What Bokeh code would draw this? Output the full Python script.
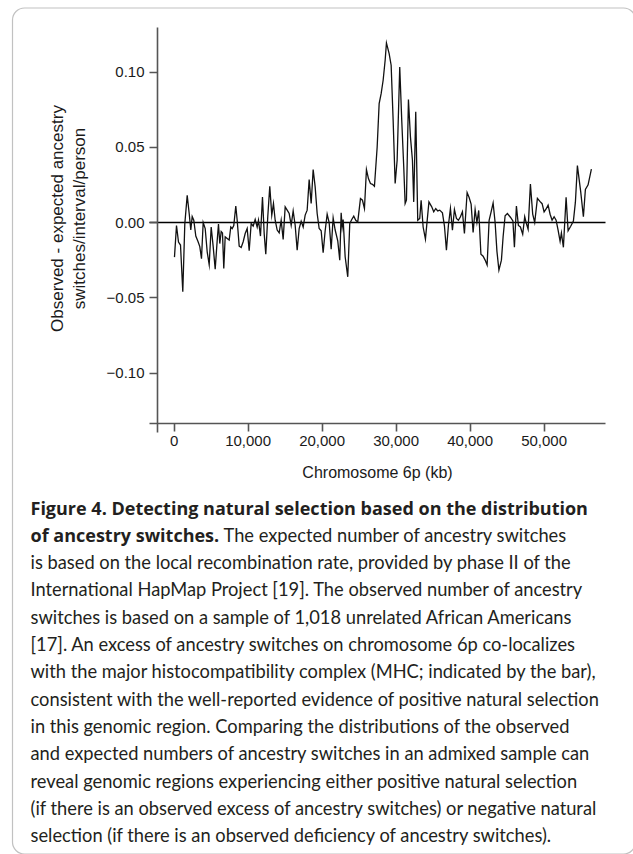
import math
from bokeh.plotting import figure
from bokeh.models import (Range1d, FixedTicker, NumeralTickFormatter, Label,
                          BoxAnnotation, LinearAxis)
from bokeh.embed import file_html
from bokeh.resources import INLINE

# ---------------- data ----------------
position_kb = [50, 324, 594, 865, 1175, 1446, 1770, 2040, 2256, 2445,
               2661, 2932, 3256, 3472, 3702, 3931, 4202, 4472, 4742, 5012,
               5282, 5553, 5823, 5998, 6174, 6363, 6539, 6714, 6904, 7174,
               7444, 7660, 7849, 8065, 8336, 8525, 8795, 9065, 9335, 9606,
               9876, 10146, 10416, 10686, 10957, 11227, 11402, 11673, 11943, 12173,
               12389, 12659, 12929, 13199, 13429, 13659, 13929, 14199, 14469, 14739,
               15010, 15280, 15550, 15820, 16090, 16361, 16631, 16901, 17171, 17441,
               17712, 17982, 18252, 18522, 18792, 19062, 19333, 19603, 19873, 20143,
               20414, 20684, 20954, 21224, 21494, 21765, 22116, 22386, 22575, 22710,
               22845, 23116, 23467, 23737, 24007, 24277, 24548, 24818, 25183, 25453,
               25723, 25993, 26263, 26534, 26804, 27074, 27439, 27709, 27979, 28249,
               28520, 28695, 29060, 29330, 29600, 29871, 30141, 30492, 30762, 31032,
               31222, 31397, 31667, 31938, 32208, 32383, 32654, 32924, 33194, 33383,
               33653, 33964, 34437, 34815, 35085, 35356, 35626, 35896, 36261, 36531,
               36801, 37071, 37342, 37612, 37882, 38152, 38422, 38693, 38963, 39233,
               39598, 39868, 40138, 40408, 40679, 40922, 41165, 41462, 41759, 42030,
               42300, 42570, 42840, 43110, 43381, 43624, 43894, 44232, 44461, 44731,
               45042, 45448, 45785, 45988, 46258, 46528, 46799, 47109, 47380, 47569,
               47839, 48150, 48460, 48731, 49095, 49433, 49730, 50001, 50271, 50541,
               50811, 51081, 51352, 51622, 51892, 52162, 52338, 52608, 52973, 53243,
               53594, 53959, 54229, 54499, 54945, 55310, 55580, 55945, 56391]

obs_minus_expected = [-0.023, -0.002, -0.013, -0.015, -0.046, -0.001, 0.018, 0.006, -0.005, 0.004,
                      0.0015, -0.009, -0.013, -0.016, -0.024, 0.000, -0.004, -0.0195, -0.028, -0.003,
                      -0.016, -0.031, -0.012, -0.001, -0.014, -0.006, -0.007, -0.0305, -0.0095, -0.0106,
                      -0.0117, -0.003, -0.004, -0.002, 0.011, 0.0015, -0.0157, -0.0166, -0.0128, -0.0073,
                      -0.004, -0.0188, -0.0007, -0.0024, 0.002, -0.003, 0.0015, -0.009, 0.017, -0.0073,
                      -0.021, 0.004, 0.024, 0.0049, 0.0126, 0.0015, -0.005, -0.0069, 0.0015, -0.0113,
                      0.0104, 0.0082, 0.006, -0.0018, 0.0077, -0.0018, -0.0184, -0.004, 0.0009, -0.003,
                      0.0049, 0.0082, 0.0285, 0.0126, 0.0352, 0.0237, 0.006, -0.004, -0.0055, -0.020,
                      -0.0055, 0.0055, 0.000, -0.0177, 0.003, -0.005, -0.0122, -0.025, 0.0064, -0.003,
                      0.002, -0.0228, -0.0361, -0.0007, 0.002, 0.0042, 0.0015, 0.0004, 0.0159, 0.0148,
                      0.0093, 0.0352, 0.0292, 0.0259, 0.0254, 0.0241, 0.050, 0.079, 0.0856, 0.0945,
                      0.1078, 0.1193, 0.1122, 0.1045, 0.0679, 0.0259, 0.0414, 0.1033, 0.0679, 0.037,
                      0.0126, 0.0148, 0.0817, 0.0569, 0.0414, 0.0137, 0.0735, 0.0015, 0.0027, 0.0148,
                      -0.003, -0.011, 0.0137, 0.0104, 0.0071, 0.0093, 0.0077, 0.0082, 0.0064, -0.0022,
                      -0.0184, -0.0018, 0.0093, -0.0051, 0.0086, 0.0027, 0.0015, 0.0038, 0.0071, -0.0073,
                      0.0199, 0.0166, 0.0122, -0.0066, 0.0086, 0.000, 0.008, -0.021, -0.0224, -0.025,
                      -0.0283, 0.0015, 0.0071, 0.013, 0.000, -0.019, -0.0316, -0.025, -0.0095, 0.0045,
                      0.006, 0.0035, 0.001, -0.0165, 0.011, -0.002, -0.003, -0.0077, 0.0038, 0.000,
                      -0.0044, 0.0255, 0.0055, 0.000, 0.016, 0.014, 0.0125, 0.007, 0.009, 0.0115,
                      0.0055, 0.0015, 0.0038, 0.0015, -0.005, -0.0125, -0.007, -0.0165, 0.0168, -0.0055,
                      -0.0025, 0.001, 0.0135, 0.0378, 0.0205, 0.0038, 0.022, 0.025, 0.0355]

x_ticks = [0, 10000, 20000, 30000, 40000, 50000]
y_ticks = [-0.10, -0.05, 0.0, 0.05, 0.10]
y_tick_labels = {-0.10: "\u22120.10", -0.05: "\u22120.05", 0.0: "0.00", 0.05: "0.05", 0.10: "0.10"}

x_title = "Chromosome 6p (kb)"
y_title_lines = ["Observed - expected ancestry", "switches/interval/person"]

caption_bold_1 = "Figure 4. Detecting natural selection based on the distribution"
caption_bold_2 = "of ancestry switches."
caption_rest_2 = "The expected number of ancestry switches"
caption_lines = [
    "is based on the local recombination rate, provided by phase II of the",
    "International HapMap Project [19]. The observed number of ancestry",
    "switches is based on a sample of 1,018 unrelated African Americans",
    "[17]. An excess of ancestry switches on chromosome 6p co-localizes",
    "with the major histocompatibility complex (MHC; indicated by the bar),",
    "consistent with the well-reported evidence of positive natural selection",
    "in this genomic region. Comparing the distributions of the observed",
    "and expected numbers of ancestry switches in an admixed sample can",
    "reveal genomic regions experiencing either positive natural selection",
    "(if there is an observed excess of ancestry switches) or negative natural",
    "selection (if there is an observed deficiency of ancestry switches).",
]

# ---------------- layout (canvas pixels) ----------------
W, H = 633, 854
KB_PER_PX = 10000 / 74.0
X0_PX = 173.6            # px of kb = 0
V_PER_PX = 0.05 / 75.25
Y0_PX = 222.0            # px of value 0 (from top)

X_START = -X0_PX * KB_PER_PX
X_END = (W - X0_PX) * KB_PER_PX
Y_TOP = Y0_PX * V_PER_PX
Y_BOTTOM = -(H - Y0_PX) * V_PER_PX

XAXIS_BOUNDS = ((149 - X0_PX) * KB_PER_PX, (605 - X0_PX) * KB_PER_PX)
YAXIS_BOUNDS = ((Y0_PX - 432) * V_PER_PX, (Y0_PX - 27) * V_PER_PX)
YAXIS_AT = (157 - X0_PX) * KB_PER_PX
XAXIS_AT = (Y0_PX - 422.5) * V_PER_PX

p = figure(width=W, height=H, x_range=Range1d(X_START, X_END),
           y_range=Range1d(Y_BOTTOM, Y_TOP), output_backend="svg",
           toolbar_location=None, x_axis_location=None, y_axis_location=None,
           min_border=0)
p.min_border_left = p.min_border_right = p.min_border_top = p.min_border_bottom = 0
p.outline_line_color = None
p.background_fill_color = "white"
p.border_fill_color = "white"
p.grid.visible = False

AX_COLOR = "#555555"
TICK_FONT = "Liberation Sans"

xaxis = LinearAxis(fixed_location=XAXIS_AT, bounds=XAXIS_BOUNDS,
                   ticker=FixedTicker(ticks=x_ticks),
                   formatter=NumeralTickFormatter(format="0,0"),
                   axis_label=x_title)
yaxis = LinearAxis(fixed_location=YAXIS_AT, bounds=YAXIS_BOUNDS,
                   ticker=FixedTicker(ticks=y_ticks),
                   major_label_overrides=y_tick_labels)
for ax in (xaxis, yaxis):
    ax.axis_line_color = AX_COLOR
    ax.axis_line_width = 1.6
    ax.major_tick_line_color = AX_COLOR
    ax.major_tick_line_width = 1.6
    ax.major_tick_out = 8
    ax.major_tick_in = 0
    ax.minor_tick_out = 0
    ax.minor_tick_in = 0
    ax.major_label_text_font = TICK_FONT
    ax.major_label_text_font_size = "15px"
    ax.major_label_text_color = "#1a1a1a"
    ax.major_label_standoff = 5
xaxis.axis_label_text_font = TICK_FONT
xaxis.axis_label_text_font_size = "16px"
xaxis.axis_label_text_font_style = "normal"
xaxis.axis_label_text_color = "#1a1a1a"
xaxis.axis_label_standoff = 14
p.add_layout(xaxis, "below")
p.add_layout(yaxis, "left")

# zero reference line across the axis extent
p.line(x=list(XAXIS_BOUNDS), y=[0, 0], line_color="black", line_width=1.4)

# data
p.line(x=position_kb, y=obs_minus_expected, line_color="#111111", line_width=1.3,
       line_join="miter")

# y axis title (two lines)
for i, txt in enumerate(y_title_lines):
    p.add_layout(Label(x=57 + 22 * i, y=H - 218, x_units="screen", y_units="screen",
                       text=txt, angle=math.pi / 2, text_align="center",
                       text_baseline="middle", text_font=TICK_FONT,
                       text_font_size="17px", text_color="#1a1a1a"))

# caption
CAP_COLOR = "#231f20"
LINE0 = H - 507
STEP = 27.33

def cap_label(x, row, text, bold=False):
    return Label(x=x, y=LINE0 - row * STEP, x_units="screen", y_units="screen",
                 text=text,
                 text_font="Open Sans" if bold else "Lato",
                 text_font_size="18px" if bold else "18.3px",
                 text_font_style="bold" if bold else "normal",
                 text_align="left", text_baseline="middle", text_color=CAP_COLOR)

p.add_layout(cap_label(30, 0, caption_bold_1, True))
p.add_layout(cap_label(30, 1, caption_bold_2, True))
p.add_layout(cap_label(223, 1, caption_rest_2))
for i, line in enumerate(caption_lines):
    p.add_layout(cap_label(30, i + 2, line))

# rounded outer frame (right edge sits at the page edge)
p.add_layout(BoxAnnotation(left=12, right=635, bottom=0.5, top=H - 7.5,
                           left_units="screen", right_units="screen",
                           top_units="screen", bottom_units="screen",
                           fill_color=None, fill_alpha=0, line_color="#333333",
                           line_width=1.2, border_radius=12))

open("out.html", "w").write(file_html(p, INLINE))
